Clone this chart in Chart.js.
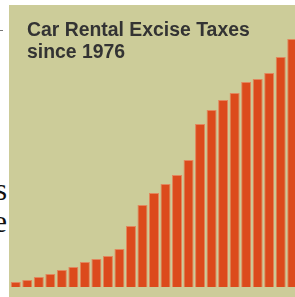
<!DOCTYPE html>
<html>
<head>
<meta charset="utf-8">
<script src="https://cdn.jsdelivr.net/npm/chart.js@4/dist/chart.umd.min.js"></script>
<style>
  html, body { margin:0; padding:0; background:#ffffff; width:295px; height:297px; overflow:hidden; position:relative; }
  #panel { position:absolute; left:9px; top:5px; width:300px; height:300px; background:#CCCC99; }
  #wrap { position:absolute; left:10px; top:5px; width:288px; height:282px; }
  #title { position:absolute; left:27px; top:17.5px; font-family:"Liberation Sans", Arial, sans-serif; font-weight:bold; font-size:19.4px; line-height:22px; color:#333333; white-space:nowrap; }
  .side { position:absolute; font-family:"Liberation Serif", "Times New Roman", serif; font-size:31px; line-height:32px; color:#111; text-align:right; width:60px; }
  #dash { position:absolute; left:0; top:30px; width:3px; height:1px; background:#777; }
</style>
</head>
<body>
<div id="panel"></div>
<div id="dash"></div>
<div class="side" style="left:-53px; top:174px;">s</div>
<div class="side" style="left:-53px; top:206px;">e</div>
<div id="wrap"><canvas id="c"></canvas></div>
<div id="title">Car Rental Excise Taxes<br>since 1976</div>
<script>
const years = ['1976','1977','1978','1979','1980','1981','1982','1983','1984','1985','1986','1987','1988','1989','1990','1991','1992','1993','1994','1995','1996','1997','1998','1999','2000'];
const taxes = [5, 7, 10, 13, 17, 20, 25, 28, 31, 38, 61, 82, 94, 103, 112, 127, 163, 177, 187, 194, 205, 208, 214, 230, 248];

new Chart(document.getElementById('c'), {
  type: 'bar',
  data: {
    labels: years,
    datasets: [{
      data: taxes,
      backgroundColor: '#DC4A1C',
      borderColor: '#E2875E',
      borderWidth: {left:1, right:1, top:1, bottom:0},
      borderSkipped: 'bottom',
      barPercentage: 0.87,
      categoryPercentage: 1.0
    }]
  },
  options: {
    responsive: true,
    maintainAspectRatio: false,
    animation: false,
    layout: { padding: 0 },
    plugins: { legend: { display:false }, title: { display:false }, tooltip: { enabled:false } },
    scales: {
      x: { display:false, offset:true },
      y: { display:false, min:0, max:282 }
    }
  }
});
</script>
</body>
</html>
